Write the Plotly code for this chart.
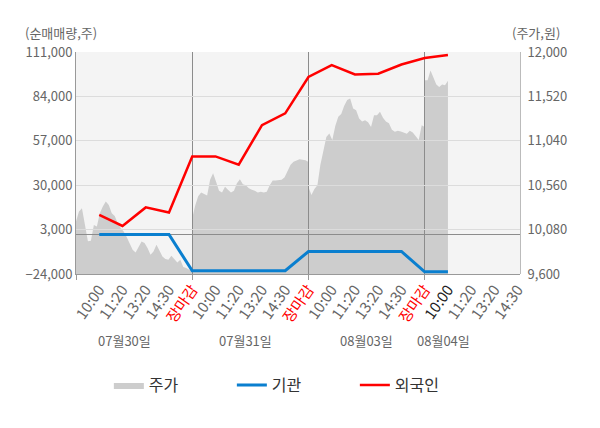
import numpy as np
import plotly.graph_objects as go

# ------------------------------------------------------------------
# Daten
# ------------------------------------------------------------------
days = ["07월30일", "07월31일", "08월03일", "08월04일"]
day_ticks = ["10:00", "11:20", "13:20", "14:30", "장마감"]

# 주가 (원) – Minutenverlauf je Tag
price_d1 = [10167, 10275, 10311, 10150, 9955, 9960, 10131, 10113, 10258, 10329,
            10383, 10347, 10258, 10228, 10150, 10096, 10059, 9999, 9934, 9862,
            9833, 9898, 9951, 9934, 9880, 9808, 9844, 9916, 9844, 9790,
            9762, 9754, 9797, 9762, 9725, 9754, 9675, 9665, 9646, 9639]
price_d2 = [10204, 10340, 10440, 10480, 10465, 10450, 10620, 10690, 10598, 10500,
            10480, 10544, 10510, 10480, 10500, 10581, 10624, 10570, 10560, 10527,
            10510, 10500, 10480, 10490, 10480, 10490, 10560, 10610, 10610, 10615,
            10620, 10645, 10715, 10780, 10814, 10825, 10840, 10835, 10830, 10810]
price_d3 = [10540, 10455, 10520, 10560, 10780, 10930, 11080, 11120, 11048, 11200,
            11300, 11330, 11420, 11480, 11497, 11390, 11370, 11280, 11250, 11263,
            11240, 11190, 11317, 11317, 11353, 11290, 11250, 11230, 11160, 11137,
            11150, 11140, 11125, 11115, 11150, 11130, 11090, 11048, 11209, 11190]
price_d4 = [11694, 11694, 11800, 11720, 11650, 11622, 11650, 11640, 11690]

# 순매매량 (주) an den Zeitmarken
inst = [0, 0, 0, 0, -22000,
        -22000, -22000, -22000, -22000, -10300,
        -10300, -10300, -10300, -10300, -22700,
        -22700]
foreign = [12000, 5200, 16500, 13400, 47500,
           47500, 42500, 66500, 73700, 95800,
           103000, 97300, 97800, 103400, 107300,
           109200]

vol_ticks = [-24000, 3000, 30000, 57000, 84000, 111000]
price_ticks = [9600, 10080, 10560, 11040, 11520, 12000]

# ------------------------------------------------------------------
# x-Positionen (5 Einheiten je Handelstag)
# ------------------------------------------------------------------
price_x, price_y = [], []
for d, vals in enumerate([price_d1, price_d2, price_d3]):
    price_x += list(np.linspace(5 * d, 5 * d + 5, len(vals)))
    price_y += vals
price_x += list(np.linspace(15, 16, len(price_d4)))
price_y += price_d4

tick_x = list(range(1, 20))
tick_text = []
for d in range(4):
    for t in day_ticks:
        if t == "장마감":
            tick_text.append('<span style="color:#ff0000">장마감</span>')
        elif d == 3 and t == "10:00":
            tick_text.append('<span style="color:#222222">10:00</span>')
        else:
            tick_text.append(t)
tick_text = tick_text[:19]
line_x = tick_x[:len(foreign)]

GRAY = "#666666"
FONT = "Noto Sans CJK KR"
XR = [0, 19.1]

fig = go.Figure()

# --- 주가 (Fläche, eigener Subplot unten) --------------------------
fig.add_trace(go.Scatter(
    x=price_x, y=price_y, xaxis="x", yaxis="y",
    mode="lines", line=dict(width=0, color="#cdcdcd"),
    fill="tozeroy", fillcolor="#cdcdcd", name="주가",
))

# --- 기관 / 외국인 ------------------------------------------------
fig.add_trace(go.Scatter(
    x=line_x, y=inst, xaxis="x2", yaxis="y2",
    mode="lines", line=dict(width=3, color="#0a7fcf"), name="기관",
))
fig.add_trace(go.Scatter(
    x=line_x, y=foreign, xaxis="x2", yaxis="y2",
    mode="lines", line=dict(width=2.5, color="#ff0000"), name="외국인",
))

# ------------------------------------------------------------------
# Layout  (Seite hat 8px Rand -> 592x420)
# ------------------------------------------------------------------
fig.update_layout(
    width=592, height=420,
    margin=dict(l=68, r=80, t=44, b=154),
    paper_bgcolor="white",
    plot_bgcolor="rgba(0,0,0,0)",
    font=dict(family=FONT, size=13, color=GRAY),
    showlegend=True,
    legend=dict(orientation="h", x=0.074, xanchor="left", y=-0.5, yanchor="middle",
                font=dict(size=16, color="#333333"), entrywidth=78,
                entrywidthmode="pixels", traceorder="normal"),
    xaxis=dict(range=XR, visible=False, fixedrange=True),
    yaxis=dict(range=[9600, 12000], side="right", anchor="x", tickvals=price_ticks,
               tickformat=",", showgrid=False, zeroline=False, showline=True,
               linecolor="#bbbbbb", ticks="", ticklabelstandoff=4, automargin=False),
    xaxis2=dict(range=XR, anchor="y2", tickvals=tick_x, ticktext=tick_text,
                tickangle=-55, ticks="", showgrid=False, zeroline=False,
                showline=True, linecolor="#999999", automargin=False,
                tickfont=dict(size=15, color=GRAY),
                minor=dict(tickvals=[0, 5, 10, 15], showgrid=True, gridcolor="#8c8c8c",
                           gridwidth=1, ticks="outside", ticklen=5, tickcolor="#999999")),
    yaxis2=dict(range=[-24000, 111000], anchor="x2", side="left", tickvals=vol_ticks,
                tickformat=",", showgrid=True, gridcolor="#dcdcdc", gridwidth=1,
                zeroline=True, zerolinecolor="#8c8c8c", zerolinewidth=1,
                showline=True, linecolor="#999999", ticks="", automargin=False),
    shapes=[dict(type="rect", xref="paper", yref="paper", x0=0, x1=1, y0=0, y1=1,
                 fillcolor="#f4f4f4", line=dict(width=0), layer="below")],
)

# Achsentitel
fig.add_annotation(text="(순매매량,주)", xref="paper", yref="paper", x=-0.119, y=1.086,
                   xanchor="left", yanchor="middle", showarrow=False,
                   font=dict(size=13, color=GRAY))
fig.add_annotation(text="(주가,원)", xref="paper", yref="paper", x=1.095, y=1.086,
                   xanchor="right", yanchor="middle", showarrow=False,
                   font=dict(size=13, color=GRAY))

# Datumslabels
for label, xpos in zip(days, [2.1, 7.3, 12.5, 15.8]):
    fig.add_annotation(text=label, xref="x2", yref="paper", x=xpos, y=-0.352,
                       showarrow=False, font=dict(size=13, color=GRAY))

fig.write_html("out.html")
